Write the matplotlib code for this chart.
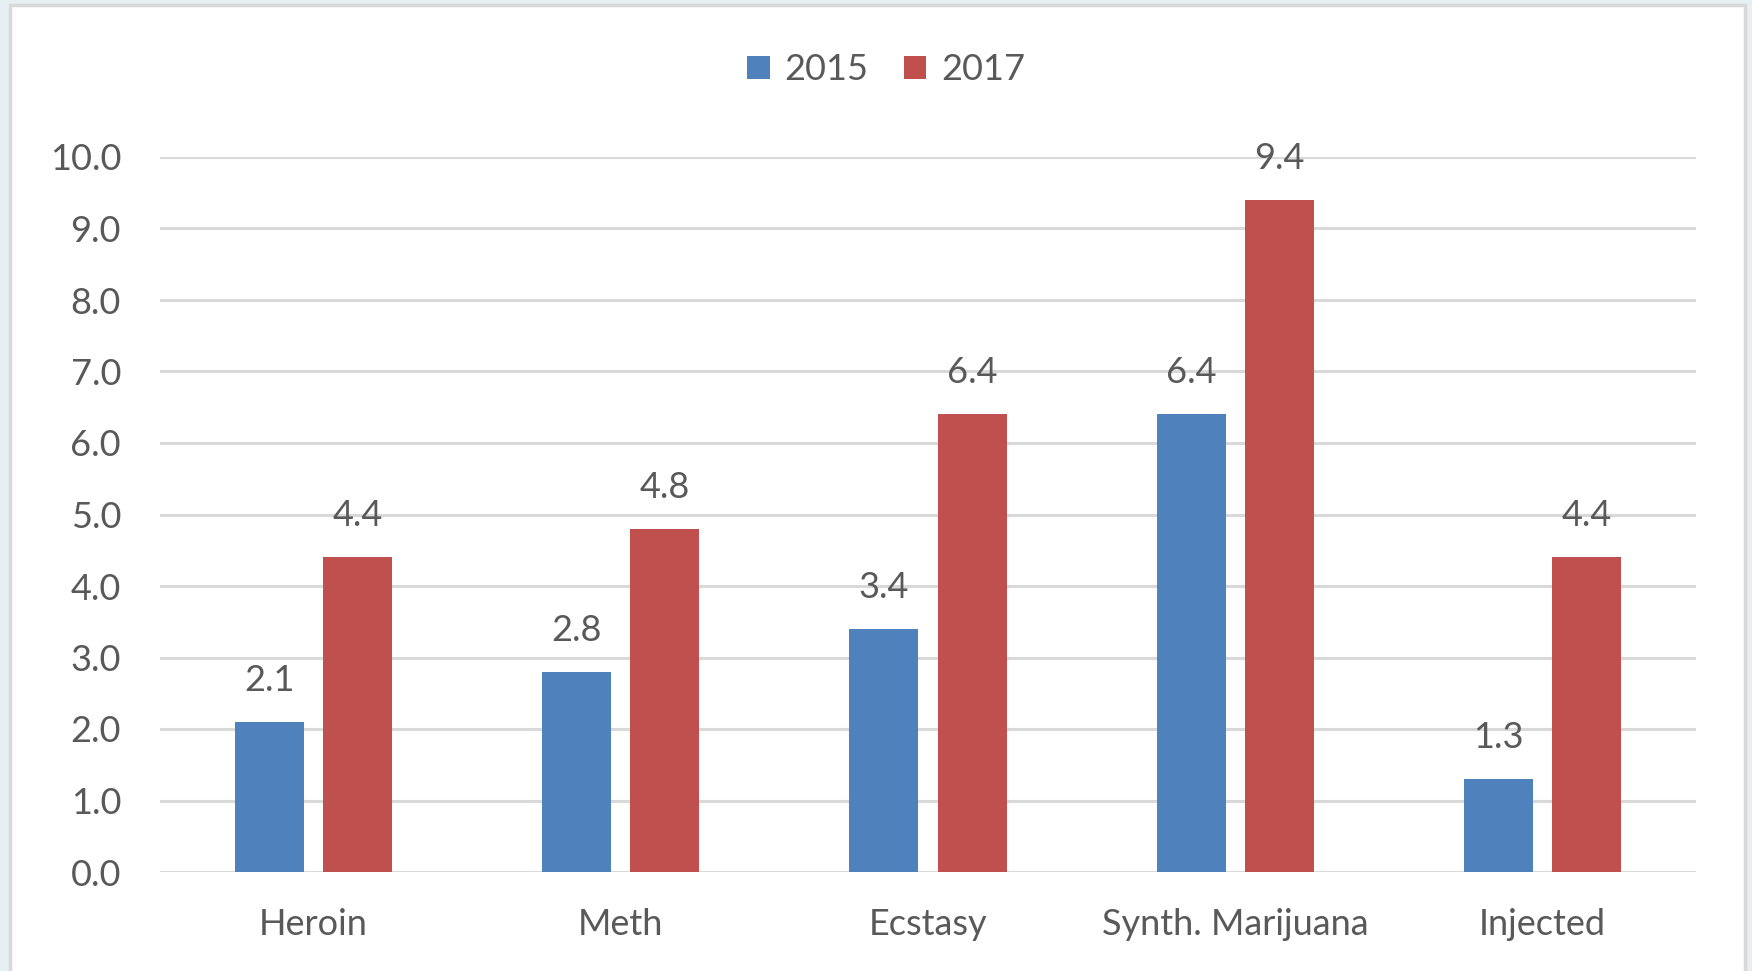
import matplotlib
matplotlib.use("Agg")
import matplotlib.pyplot as plt
from matplotlib.patches import Rectangle
import numpy as np

categories = ["Heroin", "Meth", "Ecstasy", "Synth. Marijuana", "Injected"]
values_2015 = [2.1, 2.8, 3.4, 6.4, 1.3]
values_2017 = [4.4, 4.8, 6.4, 9.4, 4.4]
series_labels = ["2015", "2017"]
yticks = [0, 1, 2, 3, 4, 5, 6, 7, 8, 9, 10]

BLUE = "#4F81BD"
RED = "#C0504D"
TEXT = "#595959"
GRID = "#D9D9D9"
FS = 26

plt.rcParams["font.family"] = ["Lato", "DejaVu Sans"]

fig = plt.figure(figsize=(17.52, 9.71), dpi=100)
fig.patch.set_facecolor("#E6F0F2")

# white chart area with a light grey frame
fig.patches.append(Rectangle((10 / 1752, -0.05), (1745 - 10) / 1752, 1 - 5 / 971 + 0.05,
                             transform=fig.transFigure, facecolor="white",
                             edgecolor=GRID, linewidth=2.5, zorder=-10))

ax = fig.add_axes([160 / 1752, 1 - 872 / 971, (1696 - 160) / 1752, (872 - 157) / 971])
ax.set_facecolor("none")
ax.set_zorder(5)

x = np.arange(len(categories))
w = 0.225
off = 0.1435
b1 = ax.bar(x - off, values_2015, w, color=BLUE, label=series_labels[0], zorder=3)
b2 = ax.bar(x + off, values_2017, w, color=RED, label=series_labels[1], zorder=3)

for bars, vals in ((b1, values_2015), (b2, values_2017)):
    for rect, v in zip(bars, vals):
        ax.annotate(f"{v:.1f}", (rect.get_x() + rect.get_width() / 2, v),
                    xytext=(0, 30), textcoords="offset points",
                    ha="center", va="center", fontsize=FS, color=TEXT, zorder=4)

ax.set_xlim(-0.5, len(categories) - 0.5)
ax.set_ylim(0, 10)
ax.set_yticks(yticks)
ax.set_yticklabels([f"{t:.1f}" for t in yticks])
ax.set_xticks(x)
ax.set_xticklabels(categories)
ax.tick_params(axis="both", length=0, labelsize=FS, labelcolor=TEXT)
ax.tick_params(axis="y", pad=28)
ax.tick_params(axis="x", pad=26)
ax.yaxis.grid(True, color=GRID, linewidth=2.2, zorder=0)
ax.set_axisbelow(True)
for s in ax.spines.values():
    s.set_visible(False)

leg = fig.legend(handles=[b1, b2], labels=series_labels, loc="center",
                 bbox_to_anchor=(886 / 1752, 1 - 70 / 971), ncol=2, frameon=False,
                 fontsize=FS, handlelength=0.62, handleheight=0.62, handletextpad=0.4,
                 columnspacing=1.0, labelcolor=TEXT)

fig.savefig("out.png", dpi=100, facecolor=fig.get_facecolor())
